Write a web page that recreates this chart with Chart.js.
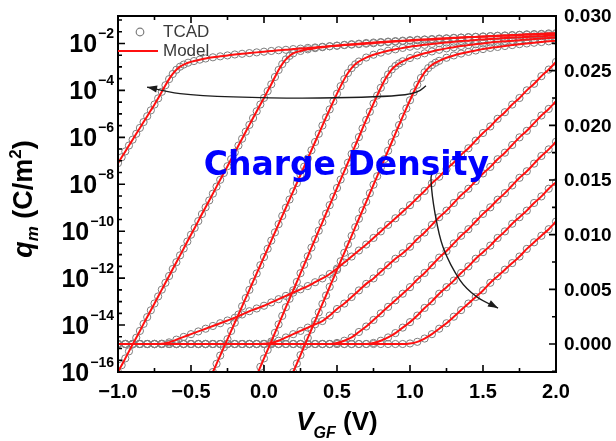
<!DOCTYPE html>
<html><head><meta charset="utf-8">
<script src="https://cdn.jsdelivr.net/npm/chart.js@4.4.0/dist/chart.umd.min.js"></script>
<style>html,body{margin:0;padding:0;background:#fff;}#wrap{width:616px;height:441px;}</style>
</head><body><div id="wrap"><canvas id="c" width="616" height="441"></canvas></div>
<script>
// ---- data ----
// log-scale curves (left axis): [V_GF, log10(q_m)]
const logA = [[-1.000,-7.10],[-0.975,-6.85],[-0.950,-6.60],[-0.925,-6.35],[-0.900,-6.10],[-0.875,-5.85],[-0.850,-5.60],[-0.825,-5.35],[-0.800,-5.10],[-0.775,-4.85],[-0.750,-4.60],[-0.725,-4.34],[-0.700,-4.06],[-0.675,-3.78],[-0.650,-3.52],[-0.625,-3.30],[-0.600,-3.12],[-0.575,-2.99],[-0.550,-2.90],[-0.520,-2.82],[-0.480,-2.75],[-0.440,-2.69],[-0.400,-2.64],[-0.350,-2.59],[-0.300,-2.55],[-0.250,-2.51],[-0.200,-2.47],[-0.150,-2.44],[-0.100,-2.41],[-0.050,-2.38],[0.00,-2.35],[0.05,-2.32],[0.10,-2.29],[0.15,-2.27],[0.20,-2.24],[0.25,-2.22],[0.30,-2.19],[0.35,-2.17],[0.40,-2.14],[0.45,-2.12],[0.50,-2.10],[0.55,-2.07],[0.60,-2.05],[0.65,-2.03],[0.70,-2.01],[0.75,-1.99],[0.80,-1.96],[0.85,-1.94],[0.90,-1.92],[0.95,-1.90],[1.00,-1.88],[1.05,-1.86],[1.10,-1.84],[1.15,-1.83],[1.20,-1.81],[1.25,-1.79],[1.30,-1.77],[1.35,-1.75],[1.40,-1.74],[1.45,-1.72],[1.50,-1.70],[1.55,-1.69],[1.60,-1.67],[1.65,-1.66],[1.70,-1.64],[1.75,-1.63],[1.80,-1.61],[1.85,-1.60],[1.90,-1.59],[1.95,-1.57],[2.00,-1.56]];
const logB = [[-1.000,-16.00],[-0.975,-15.71],[-0.950,-15.42],[-0.925,-15.12],[-0.900,-14.83],[-0.875,-14.54],[-0.850,-14.25],[-0.825,-13.95],[-0.800,-13.66],[-0.775,-13.37],[-0.750,-13.08],[-0.725,-12.78],[-0.700,-12.49],[-0.675,-12.20],[-0.650,-11.91],[-0.625,-11.61],[-0.600,-11.32],[-0.575,-11.03],[-0.550,-10.74],[-0.525,-10.44],[-0.500,-10.15],[-0.475,-9.86],[-0.450,-9.57],[-0.425,-9.27],[-0.400,-8.98],[-0.375,-8.69],[-0.350,-8.40],[-0.325,-8.10],[-0.300,-7.81],[-0.275,-7.52],[-0.250,-7.23],[-0.225,-6.93],[-0.200,-6.64],[-0.175,-6.35],[-0.150,-6.06],[-0.125,-5.76],[-0.100,-5.47],[-0.075,-5.18],[-0.050,-4.89],[-0.025,-4.60],[0.000,-4.32],[0.025,-4.03],[0.050,-3.74],[0.075,-3.43],[0.100,-3.13],[0.125,-2.88],[0.150,-2.68],[0.175,-2.53],[0.200,-2.42],[0.25,-2.32],[0.30,-2.25],[0.35,-2.20],[0.40,-2.16],[0.45,-2.12],[0.50,-2.09],[0.55,-2.06],[0.60,-2.03],[0.65,-2.01],[0.70,-1.98],[0.75,-1.96],[0.80,-1.94],[0.85,-1.92],[0.90,-1.90],[0.95,-1.88],[1.00,-1.86],[1.05,-1.84],[1.10,-1.83],[1.15,-1.81],[1.20,-1.79],[1.25,-1.78],[1.30,-1.76],[1.35,-1.75],[1.40,-1.73],[1.45,-1.72],[1.50,-1.71],[1.55,-1.69],[1.60,-1.68],[1.65,-1.67],[1.70,-1.66],[1.75,-1.64],[1.80,-1.63],[1.85,-1.62],[1.90,-1.61],[1.95,-1.60],[2.00,-1.59]];
const logC = [[-0.375,-16.35],[-0.350,-16.00],[-0.325,-15.65],[-0.300,-15.30],[-0.275,-14.95],[-0.250,-14.60],[-0.225,-14.25],[-0.200,-13.90],[-0.175,-13.55],[-0.150,-13.20],[-0.125,-12.85],[-0.100,-12.50],[-0.075,-12.15],[-0.050,-11.80],[-0.025,-11.45],[0.000,-11.10],[0.025,-10.75],[0.050,-10.40],[0.075,-10.05],[0.100,-9.70],[0.125,-9.35],[0.150,-9.00],[0.175,-8.65],[0.200,-8.30],[0.225,-7.95],[0.250,-7.60],[0.275,-7.25],[0.300,-6.90],[0.325,-6.55],[0.350,-6.20],[0.375,-5.85],[0.400,-5.50],[0.425,-5.15],[0.450,-4.81],[0.475,-4.47],[0.500,-4.14],[0.525,-3.82],[0.550,-3.52],[0.575,-3.26],[0.600,-3.05],[0.625,-2.89],[0.650,-2.77],[0.70,-2.60],[0.75,-2.48],[0.80,-2.39],[0.85,-2.31],[0.90,-2.25],[0.95,-2.19],[1.00,-2.14],[1.05,-2.10],[1.10,-2.06],[1.15,-2.02],[1.20,-1.99],[1.25,-1.96],[1.30,-1.93],[1.35,-1.90],[1.40,-1.88],[1.45,-1.85],[1.50,-1.83],[1.55,-1.81],[1.60,-1.79],[1.65,-1.77],[1.70,-1.75],[1.75,-1.74],[1.80,-1.72],[1.85,-1.70],[1.90,-1.69],[1.95,-1.67],[2.00,-1.66]];
const logD = [[-0.050,-16.15],[-0.025,-15.78],[0.000,-15.42],[0.025,-15.06],[0.050,-14.70],[0.075,-14.33],[0.100,-13.97],[0.125,-13.61],[0.150,-13.24],[0.175,-12.88],[0.200,-12.52],[0.225,-12.16],[0.250,-11.79],[0.275,-11.43],[0.300,-11.07],[0.325,-10.70],[0.350,-10.34],[0.375,-9.98],[0.400,-9.62],[0.425,-9.25],[0.450,-8.89],[0.475,-8.53],[0.500,-8.16],[0.525,-7.80],[0.550,-7.44],[0.575,-7.08],[0.600,-6.71],[0.625,-6.35],[0.650,-5.99],[0.675,-5.62],[0.700,-5.26],[0.725,-4.91],[0.750,-4.56],[0.775,-4.22],[0.800,-3.89],[0.825,-3.58],[0.850,-3.32],[0.875,-3.11],[0.900,-2.96],[0.925,-2.85],[0.950,-2.76],[1.00,-2.62],[1.05,-2.51],[1.10,-2.42],[1.15,-2.34],[1.20,-2.27],[1.25,-2.21],[1.30,-2.16],[1.35,-2.11],[1.40,-2.07],[1.45,-2.03],[1.50,-2.00],[1.55,-1.96],[1.60,-1.93],[1.65,-1.91],[1.70,-1.88],[1.75,-1.86],[1.80,-1.83],[1.85,-1.81],[1.90,-1.79],[1.95,-1.77],[2.00,-1.75]];
const logE = [[0.200,-16.00],[0.225,-15.64],[0.250,-15.28],[0.275,-14.91],[0.300,-14.55],[0.325,-14.19],[0.350,-13.82],[0.375,-13.46],[0.400,-13.10],[0.425,-12.74],[0.450,-12.37],[0.475,-12.01],[0.500,-11.65],[0.525,-11.28],[0.550,-10.92],[0.575,-10.56],[0.600,-10.20],[0.625,-9.83],[0.650,-9.47],[0.675,-9.11],[0.700,-8.75],[0.725,-8.38],[0.750,-8.02],[0.775,-7.66],[0.800,-7.29],[0.825,-6.93],[0.850,-6.57],[0.875,-6.21],[0.900,-5.84],[0.925,-5.48],[0.950,-5.12],[0.975,-4.77],[1.000,-4.42],[1.025,-4.08],[1.050,-3.76],[1.075,-3.47],[1.100,-3.23],[1.125,-3.05],[1.150,-2.92],[1.175,-2.82],[1.200,-2.74],[1.25,-2.61],[1.30,-2.51],[1.35,-2.43],[1.40,-2.36],[1.45,-2.30],[1.50,-2.24],[1.55,-2.19],[1.60,-2.15],[1.65,-2.11],[1.70,-2.07],[1.75,-2.03],[1.80,-2.00],[1.85,-1.97],[1.90,-1.94],[1.95,-1.91],[2.00,-1.88]];

// linear-scale curves (right axis): [V_GF, q_m in C/m^2]
const linA = [[-1.00,0],[-0.95,0],[-0.90,0],[-0.85,0],[-0.80,0],[-0.75,0],[-0.70,0.00003],[-0.65,0.00015],[-0.60,0.0004],[-0.55,0.00065],[-0.50,0.0009],[-0.45,0.00115],[-0.40,0.0014],[-0.35,0.00165],[-0.30,0.0019],[-0.25,0.00215],[-0.20,0.0024],[-0.15,0.0027],[-0.10,0.0030],[-0.05,0.00325],[0.00,0.0035],[0.05,0.0038],[0.10,0.0041],[0.15,0.0044],[0.20,0.0047],[0.25,0.0050],[0.30,0.0053],[0.35,0.00565],[0.40,0.0060],[0.45,0.0064],[0.50,0.0069],[0.55,0.00745],[0.60,0.0080],[0.65,0.00855],[0.70,0.0091],[0.75,0.0097],[0.80,0.0103],[0.85,0.0109],[0.90,0.0115],[0.95,0.0121],[1.00,0.0127],[1.05,0.01336],[1.10,0.0140],[1.15,0.0147],[1.20,0.0153],[1.25,0.0160],[1.30,0.0166],[1.35,0.0173],[1.40,0.0179],[1.45,0.0186],[1.50,0.0193],[1.55,0.0199],[1.60,0.0206],[1.65,0.0212],[1.70,0.0219],[1.75,0.0225],[1.80,0.0232],[1.85,0.0238],[1.90,0.0245],[1.95,0.0251],[2.00,0.0258]];
const linB = [[-1.00,0],[-0.95,0],[-0.90,0],[-0.85,0],[-0.80,0],[-0.75,0],[-0.70,0],[-0.65,0],[-0.60,0],[-0.55,0],[-0.50,0],[-0.45,0],[-0.40,0],[-0.35,0],[-0.30,0],[-0.25,0],[-0.20,0],[-0.15,0],[-0.10,0],[-0.05,0],[0.00,0.00002],[0.05,0.0001],[0.10,0.0003],[0.15,0.0006],[0.20,0.0009],[0.25,0.0012],[0.30,0.0015],[0.35,0.0018],[0.40,0.0021],[0.45,0.0026],[0.50,0.0032],[0.55,0.0037],[0.60,0.0043],[0.65,0.0049],[0.70,0.0055],[0.75,0.0060],[0.80,0.0066],[0.85,0.0072],[0.90,0.0078],[0.95,0.0083],[1.00,0.0089],[1.05,0.0096],[1.10,0.0102],[1.15,0.0109],[1.20,0.0116],[1.25,0.0122],[1.30,0.0129],[1.35,0.0136],[1.40,0.0142],[1.45,0.0149],[1.50,0.0156],[1.55,0.0162],[1.60,0.0169],[1.65,0.0175],[1.70,0.0182],[1.75,0.0189],[1.80,0.0195],[1.85,0.0202],[1.90,0.0209],[1.95,0.0215],[2.00,0.0222]];
const linC = [[-1.00,0],[-0.95,0],[-0.90,0],[-0.85,0],[-0.80,0],[-0.75,0],[-0.70,0],[-0.65,0],[-0.60,0],[-0.55,0],[-0.50,0],[-0.45,0],[-0.40,0],[-0.35,0],[-0.30,0],[-0.25,0],[-0.20,0],[-0.15,0],[-0.10,0],[-0.05,0],[0.00,0],[0.05,0],[0.10,0],[0.15,0],[0.20,0],[0.25,0],[0.30,0],[0.35,0],[0.40,0],[0.45,0],[0.50,0.0001],[0.55,0.0003],[0.60,0.0006],[0.65,0.0011],[0.70,0.0016],[0.75,0.0022],[0.80,0.0028],[0.85,0.0034],[0.90,0.0040],[0.95,0.0046],[1.00,0.0052],[1.05,0.0059],[1.10,0.0065],[1.15,0.0072],[1.20,0.0079],[1.25,0.0085],[1.30,0.0092],[1.35,0.0099],[1.40,0.0105],[1.45,0.0112],[1.50,0.0119],[1.55,0.0125],[1.60,0.0132],[1.65,0.0138],[1.70,0.0145],[1.75,0.0152],[1.80,0.0158],[1.85,0.0165],[1.90,0.0172],[1.95,0.0178],[2.00,0.0185]];
const linD = [[-1.00,0],[-0.95,0],[-0.90,0],[-0.85,0],[-0.80,0],[-0.75,0],[-0.70,0],[-0.65,0],[-0.60,0],[-0.55,0],[-0.50,0],[-0.45,0],[-0.40,0],[-0.35,0],[-0.30,0],[-0.25,0],[-0.20,0],[-0.15,0],[-0.10,0],[-0.05,0],[0.00,0],[0.05,0],[0.10,0],[0.15,0],[0.20,0],[0.25,0],[0.30,0],[0.35,0],[0.40,0],[0.45,0],[0.50,0],[0.55,0],[0.60,0],[0.65,0],[0.70,0],[0.75,0.0001],[0.80,0.0003],[0.85,0.0006],[0.90,0.0010],[0.95,0.0015],[1.00,0.0020],[1.05,0.0026],[1.10,0.0033],[1.15,0.0039],[1.20,0.0046],[1.25,0.0052],[1.30,0.0058],[1.35,0.0065],[1.40,0.0071],[1.45,0.0078],[1.50,0.0084],[1.55,0.0090],[1.60,0.0097],[1.65,0.0103],[1.70,0.0110],[1.75,0.0116],[1.80,0.0122],[1.85,0.0129],[1.90,0.0135],[1.95,0.0142],[2.00,0.0148]];
const linE = [[-1.00,0],[-0.95,0],[-0.90,0],[-0.85,0],[-0.80,0],[-0.75,0],[-0.70,0],[-0.65,0],[-0.60,0],[-0.55,0],[-0.50,0],[-0.45,0],[-0.40,0],[-0.35,0],[-0.30,0],[-0.25,0],[-0.20,0],[-0.15,0],[-0.10,0],[-0.05,0],[0.00,0],[0.05,0],[0.10,0],[0.15,0],[0.20,0],[0.25,0],[0.30,0],[0.35,0],[0.40,0],[0.45,0],[0.50,0],[0.55,0],[0.60,0],[0.65,0],[0.70,0],[0.75,0],[0.80,0],[0.85,0],[0.90,0],[0.95,0],[1.00,0.00005],[1.05,0.0002],[1.10,0.0005],[1.15,0.0009],[1.20,0.0014],[1.25,0.0019],[1.30,0.0025],[1.35,0.0031],[1.40,0.0037],[1.45,0.0043],[1.50,0.0049],[1.55,0.0056],[1.60,0.0062],[1.65,0.0068],[1.70,0.0074],[1.75,0.0080],[1.80,0.0087],[1.85,0.0093],[1.90,0.0099],[1.95,0.0105],[2.00,0.0112]];

// axis ranges and tick labels
const X_RANGE = [-1.0, 2.0];
const X_MAJOR = [-1.0, -0.5, 0.0, 0.5, 1.0, 1.5, 2.0];
const X_LABELS = ['\u22121.0', '\u22120.5', '0.0', '0.5', '1.0', '1.5', '2.0'];
const X_MINOR = [-0.75, -0.25, 0.25, 0.75, 1.25, 1.75];
const YL_RANGE_EXP = [-16, -0.83];
const YL_MAJOR_EXP = [-16, -14, -12, -10, -8, -6, -4, -2];
const YL_LABEL_EXP = ['\u221216', '\u221214', '\u221212', '\u221210', '\u22128', '\u22126', '\u22124', '\u22122'];
const YL_MINOR_EXP = [-15.5, -15, -14.5, -13.5, -13, -12.5, -11.5, -11, -10.5, -9.5, -9, -8.5, -7.5, -7, -6.5, -5.5, -5, -4.5, -3.5, -3, -2.5, -1.5, -1];
const YR_RANGE = [-0.00256, 0.030];
const YR_MAJOR = [0.000, 0.005, 0.010, 0.015, 0.020, 0.025, 0.030];
const YR_LABELS = ['0.000', '0.005', '0.010', '0.015', '0.020', '0.025', '0.030'];
const YR_MINOR = [-0.0025, 0.0025, 0.0075, 0.0125, 0.0175, 0.0225, 0.0275];

// annotation arrows, in data coordinates (V_GF, right-axis q_m)
const ARROW_1 = [[1.110, 0.0236], [0.966, 0.0228], [0.384, 0.0225], [-0.212, 0.0226], [-0.575, 0.0229], [-0.801, 0.0235]];
const ARROW_2 = [[1.158, 0.01564], [1.144, 0.0150], [1.171, 0.01198], [1.226, 0.00887], [1.342, 0.00585], [1.459, 0.00430], [1.603, 0.00329]];
const ANNOT_TEXT = 'Charge Density';
const ANNOT_POS = [-0.413, 0.01545]; // left/baseline of the blue text

// ---- styles ----
const RED = '#ff1010';
const GRAY = '#7d7d7d';
const FONT = '"Liberation Sans", Arial, Helvetica, sans-serif';

const datasets = [];
[logA, logB, logC, logD, logE].forEach(c => {
  const data = c.map(p => ({x: p[0], y: Math.pow(10, p[1])}));
  datasets.push({label: 'Model', data, yAxisID: 'yL', borderColor: RED, borderWidth: 2, pointRadius: 0, cubicInterpolationMode: 'monotone', order: 0, clip: 0});
  datasets.push({label: 'TCAD', data, yAxisID: 'yL', showLine: false, pointRadius: 3.6, borderColor: GRAY, backgroundColor: 'rgba(255,255,255,0.15)', borderWidth: 1, order: 1, clip: 0});
});
[linA, linB, linC, linD, linE].forEach(c => {
  const data = c.map(p => ({x: p[0], y: p[1]}));
  datasets.push({label: 'Model', data, yAxisID: 'yR', borderColor: RED, borderWidth: 2, pointRadius: 0, cubicInterpolationMode: 'monotone', order: 0, clip: 0});
  datasets.push({label: 'TCAD', data, yAxisID: 'yR', showLine: false, pointRadius: 3.6, borderColor: GRAY, backgroundColor: 'rgba(255,255,255,0.15)', borderWidth: 1, order: 1, clip: 0});
});

function smoothPath(ctx, p) {
  ctx.moveTo(p[0][0], p[0][1]);
  for (let i = 0; i < p.length - 1; i++) {
    const p0 = p[Math.max(0, i - 1)], p1 = p[i], p2 = p[i + 1], p3 = p[Math.min(p.length - 1, i + 2)];
    ctx.bezierCurveTo(p1[0] + (p2[0] - p0[0]) / 6, p1[1] + (p2[1] - p0[1]) / 6,
                      p2[0] - (p3[0] - p1[0]) / 6, p2[1] - (p3[1] - p1[1]) / 6, p2[0], p2[1]);
  }
}
function arrowHead(ctx, from, to) {
  const a = Math.atan2(to[1] - from[1], to[0] - from[0]);
  const L = 10, W = 3.6;
  ctx.beginPath();
  ctx.moveTo(to[0], to[1]);
  ctx.lineTo(to[0] - L * Math.cos(a) + W * Math.sin(a), to[1] - L * Math.sin(a) - W * Math.cos(a));
  ctx.lineTo(to[0] - L * Math.cos(a) - W * Math.sin(a), to[1] - L * Math.sin(a) + W * Math.cos(a));
  ctx.closePath();
  ctx.fill();
}

const deco = {
  id: 'deco',
  afterDatasetsDraw(chart) {
    const ctx = chart.ctx, a = chart.chartArea;
    const x = chart.scales.x, yL = chart.scales.yL, yR = chart.scales.yR;
    ctx.save();
    // arrows
    ctx.strokeStyle = '#1c1c1c'; ctx.fillStyle = '#1c1c1c'; ctx.lineWidth = 1.4;
    [ARROW_1, ARROW_2].forEach(arr => {
      const p = arr.map(q => [x.getPixelForValue(q[0]), yR.getPixelForValue(q[1])]);
      ctx.beginPath(); smoothPath(ctx, p); ctx.stroke();
      arrowHead(ctx, p[p.length - 2], p[p.length - 1]);
    });
    // annotation text
    ctx.fillStyle = '#0000ff';
    ctx.font = 'bold 33px "DejaVu Sans", Verdana, sans-serif';
    ctx.textAlign = 'left'; ctx.textBaseline = 'alphabetic';
    ctx.fillText(ANNOT_TEXT, x.getPixelForValue(ANNOT_POS[0]), yR.getPixelForValue(ANNOT_POS[1]));
    // frame
    ctx.strokeStyle = '#000'; ctx.lineWidth = 2;
    ctx.strokeRect(a.left, a.top, a.right - a.left, a.bottom - a.top);
    // ticks
    ctx.lineWidth = 1.6;
    ctx.beginPath();
    X_MAJOR.forEach(v => { const px = x.getPixelForValue(v); ctx.moveTo(px, a.bottom); ctx.lineTo(px, a.bottom - 7); ctx.moveTo(px, a.top); ctx.lineTo(px, a.top + 7); });
    X_MINOR.forEach(v => { const px = x.getPixelForValue(v); ctx.moveTo(px, a.bottom); ctx.lineTo(px, a.bottom - 4); ctx.moveTo(px, a.top); ctx.lineTo(px, a.top + 4); });
    YL_MAJOR_EXP.forEach(e => { const py = yL.getPixelForValue(Math.pow(10, e)); ctx.moveTo(a.left, py); ctx.lineTo(a.left + 7, py); });
    YL_MINOR_EXP.forEach(e => { const py = yL.getPixelForValue(Math.pow(10, e)); ctx.moveTo(a.left, py); ctx.lineTo(a.left + 4, py); });
    YR_MAJOR.forEach(v => { const py = yR.getPixelForValue(v); ctx.moveTo(a.right, py); ctx.lineTo(a.right - 7, py); });
    YR_MINOR.forEach(v => { const py = yR.getPixelForValue(v); ctx.moveTo(a.right, py); ctx.lineTo(a.right - 4, py); });
    ctx.stroke();
    // tick labels
    ctx.fillStyle = '#000';
    ctx.font = 'bold 20px ' + FONT; ctx.textAlign = 'center'; ctx.textBaseline = 'top';
    X_MAJOR.forEach((v, i) => ctx.fillText(X_LABELS[i], x.getPixelForValue(v), a.bottom + 10));
    ctx.textAlign = 'left'; ctx.textBaseline = 'middle'; ctx.font = 'bold 19px ' + FONT;
    YR_MAJOR.forEach((v, i) => ctx.fillText(YR_LABELS[i], a.right + 8, yR.getPixelForValue(v) + 1));
    ctx.textBaseline = 'alphabetic';
    YL_MAJOR_EXP.forEach((e, i) => {
      const py = yL.getPixelForValue(Math.pow(10, e));
      ctx.font = 'bold 14px ' + FONT;
      const ew = ctx.measureText(YL_LABEL_EXP[i]).width;
      const right = a.left - 4;
      ctx.textAlign = 'right';
      ctx.fillText(YL_LABEL_EXP[i], right, py - 5);
      ctx.font = 'bold 25px ' + FONT;
      ctx.fillText('10', right - ew - 1, py + 9);
    });
    // x title
    const parts = [['V', 'bold italic 26px ', 0], ['GF', 'bold italic 16px ', 8], [' (V)', 'bold 26px ', 0]];
    let tw = 0; parts.forEach(p => { ctx.font = p[1] + FONT; tw += ctx.measureText(p[0]).width; });
    let cx = (a.left + a.right) / 2 - tw / 2;
    ctx.textAlign = 'left';
    parts.forEach(p => { ctx.font = p[1] + FONT; ctx.fillText(p[0], cx, 430 + p[2]); cx += ctx.measureText(p[0]).width; });
    // y title (rotated)
    ctx.save();
    ctx.translate(32, 199); ctx.rotate(-Math.PI / 2);
    const yp = [['q', 'bold italic 27px ', 0], ['m', 'bold italic 17px ', 6], [' (C/m', 'bold 27px ', 0], ['2', 'bold 17px ', -11], [')', 'bold 27px ', 0]];
    tw = 0; yp.forEach(p => { ctx.font = p[1] + FONT; tw += ctx.measureText(p[0]).width; });
    cx = -tw / 2;
    yp.forEach(p => { ctx.font = p[1] + FONT; ctx.fillText(p[0], cx, p[2]); cx += ctx.measureText(p[0]).width; });
    ctx.restore();
    // legend
    ctx.strokeStyle = GRAY; ctx.lineWidth = 1.2;
    ctx.beginPath(); ctx.arc(a.left + 22, a.top + 16, 3.8, 0, Math.PI * 2); ctx.stroke();
    ctx.strokeStyle = RED; ctx.lineWidth = 2;
    ctx.beginPath(); ctx.moveTo(a.left, a.top + 35); ctx.lineTo(a.left + 40, a.top + 35); ctx.stroke();
    ctx.fillStyle = '#3a3a3a'; ctx.font = '17px ' + FONT; ctx.textBaseline = 'middle';
    ctx.fillText('TCAD', a.left + 45, a.top + 16);
    ctx.fillText('Model', a.left + 45, a.top + 35);
    ctx.restore();
  }
};

new Chart(document.getElementById('c'), {
  type: 'line',
  data: {datasets},
  options: {
    responsive: false, animation: false, devicePixelRatio: 1,
    layout: {padding: {left: 118, right: 60, top: 16, bottom: 69}},
    plugins: {legend: {display: false}, tooltip: {enabled: false}},
    scales: {
      x: {type: 'linear', min: X_RANGE[0], max: X_RANGE[1], display: false},
      yL: {type: 'logarithmic', position: 'left', min: Math.pow(10, YL_RANGE_EXP[0]), max: Math.pow(10, YL_RANGE_EXP[1]), display: false},
      yR: {type: 'linear', position: 'right', min: YR_RANGE[0], max: YR_RANGE[1], display: false}
    }
  },
  plugins: [deco]
});
</script></body></html>
